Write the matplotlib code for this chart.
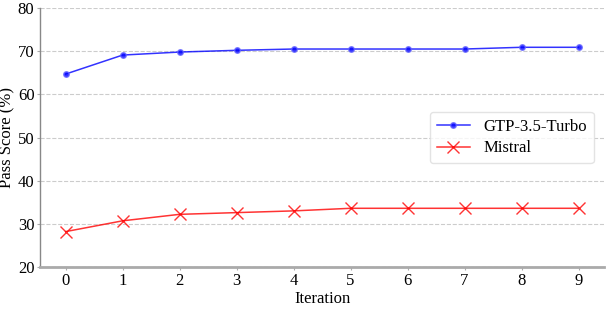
import matplotlib
matplotlib.use("Agg")
import matplotlib.pyplot as plt

iterations = [0, 1, 2, 3, 4, 5, 6, 7, 8, 9]
gpt_scores = [64.7, 69.1, 69.8, 70.2, 70.5, 70.5, 70.5, 70.5, 70.9, 70.9]
mistral_scores = [28.2, 30.7, 32.2, 32.6, 33.0, 33.6, 33.6, 33.6, 33.6, 33.6]
yticks = [20, 30, 40, 50, 60, 70, 80]

plt.rcParams['font.family'] = ['Liberation Serif', 'DejaVu Serif']
plt.rcParams['font.size'] = 12

fig = plt.figure(figsize=(6.06, 3.34), dpi=100)
ax = fig.add_axes([0.066, 0.2006, 0.931, 0.7754])

ax.plot(iterations, gpt_scores, color='blue', marker='o', markersize=4,
        markerfacecolor='blue', markeredgecolor='#6666ff', linewidth=1.1, alpha=0.8,
        label='GTP-3.5-Turbo')
ax.plot(iterations, mistral_scores, color='red', marker='x', markersize=8,
        linewidth=1.1, alpha=0.8, label='Mistral')

ax.set_ylim(20, 80)
ax.set_yticks(yticks)
ax.set_xticks(iterations)
ax.set_xlim(-0.45, 9.45)
ax.grid(axis='y', linestyle='--', color='#cccccc', linewidth=0.8)
ax.set_axisbelow(True)
for s in ['top', 'right']:
    ax.spines[s].set_visible(False)
ax.spines['left'].set_color('#888888')
ax.spines['left'].set_linewidth(1.0)
ax.spines['bottom'].set_color('#aaaaaa')
ax.spines['bottom'].set_linewidth(2.0)
ax.tick_params(axis='both', length=2, width=0.8, color='#aaaaaa', pad=2)
ax.set_xlabel('Iteration', labelpad=2)
ax.set_ylabel('Pass Score (%)', labelpad=2)
leg = ax.legend(loc='center right', frameon=True, fancybox=True, edgecolor='#dddddd',
                fontsize=12, borderpad=0.4, labelspacing=0.35, handlelength=2.0,
                bbox_to_anchor=(0.996, 0.5))

fig.savefig('out.png', dpi=100)
